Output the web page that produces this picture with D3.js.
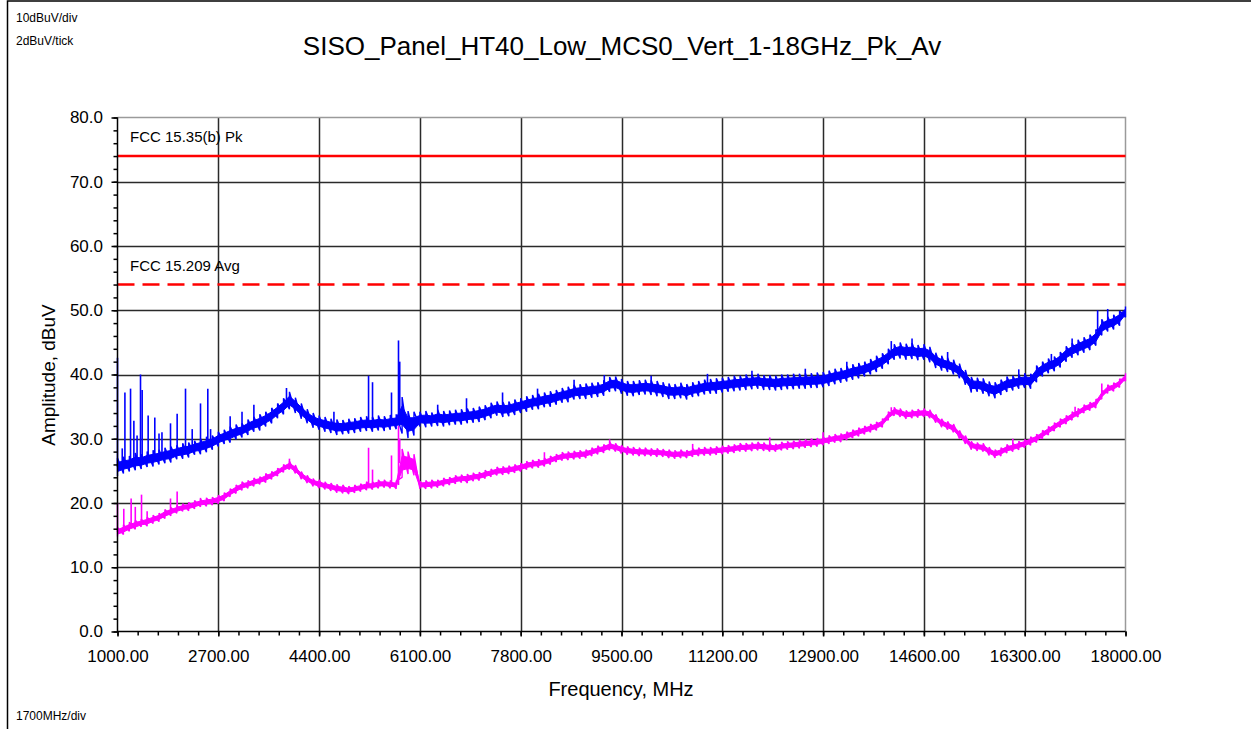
<!DOCTYPE html>
<html>
<head>
<meta charset="utf-8">
<script src="https://cdn.jsdelivr.net/npm/d3@7"></script>
<style>
body { margin: 0; background: #fff; }
text { font-family: "Liberation Sans", Arial, sans-serif; fill: #000; }
</style>
</head>
<body>
<div id="chart"></div>
<script>
var svgWidth = 1251;
var svgHeight = 729;

// plot box
var plotLeft = 117.5, plotRight = 1125.5, plotTop = 117.5, plotBottom = 631.5;

// sweep: one sample every 100 MHz, 1000 .. 18000 MHz
var freqStart = 1000;
var freqStep = 100;

// peak trace envelope (dBuV), low and high edge of the noisy band
var pkLo = [
  24.2,24.6,24.9,25.1,25.3,25.6,25.7,26.0,26.2,26.3,
  26.8,26.9,27.1,27.5,27.6,27.9,28.3,28.8,29.2,29.4,
  29.9,30.2,30.6,31.1,31.3,31.9,32.4,33.2,33.8,34.6,
  34.0,33.1,32.4,31.7,31.4,31.1,30.9,30.6,30.7,30.8,
  30.9,31.1,31.2,31.1,31.3,31.2,31.4,31.5,30.8,30.1,
  30.5,31.9,31.8,31.9,32.0,31.9,32.1,32.2,32.2,32.4,
  32.5,32.6,32.9,33.2,33.6,33.4,33.5,33.7,34.0,34.2,
  34.5,34.6,34.9,35.0,35.3,35.6,35.7,36.1,36.2,36.2,
  36.4,36.5,36.7,37.3,37.4,37.0,36.7,36.6,36.8,36.9,
  36.8,36.6,36.5,36.2,36.2,36.3,36.1,36.5,36.6,36.9,
  37.0,37.0,37.2,37.3,37.4,37.5,37.6,37.7,37.8,37.6,
  37.6,37.5,37.6,37.7,37.7,37.8,37.8,37.9,37.9,38.0,
  38.2,38.5,38.7,38.9,39.2,39.4,39.7,40.0,40.4,40.9,
  41.6,42.3,42.5,42.3,42.4,42.2,42.3,41.9,41.0,40.6,
  40.4,40.0,39.4,38.4,37.2,37.3,37.0,36.6,36.3,36.8,
  37.3,37.5,37.8,37.9,37.8,38.8,39.7,40.2,40.5,41.1,
  42.0,42.6,43.0,43.4,43.8,44.5,46.1,46.7,47.0,47.6,
  48.9
];
var pkHi = [
  27.0,27.2,27.3,27.8,27.6,28.0,28.2,28.3,28.6,28.8,
  29.0,29.3,29.4,29.7,30.0,30.3,30.5,31.1,31.4,31.9,
  32.2,32.4,33.0,33.4,33.8,34.2,34.8,35.5,36.3,37.3,
  36.4,35.5,34.6,34.0,33.6,33.4,33.1,33.0,32.9,33.1,
  33.2,33.4,33.5,33.4,33.6,33.5,33.7,33.8,36.5,34.3,
  34.2,34.2,34.3,34.1,34.5,34.3,34.4,34.5,34.6,34.7,
  34.8,35.0,35.2,35.6,35.8,35.7,35.8,36.1,36.3,36.6,
  36.8,37.0,37.2,37.4,37.6,37.9,38.1,38.4,38.5,38.6,
  38.7,38.8,39.1,39.6,39.7,39.3,39.0,39.0,39.1,39.2,
  39.1,39.0,38.8,38.6,38.5,38.7,38.5,38.8,39.0,39.2,
  39.3,39.4,39.5,39.6,39.8,39.8,40.0,40.0,40.1,39.9,
  39.9,39.8,40.0,40.0,40.1,40.1,40.2,40.2,40.3,40.4,
  40.6,40.9,41.0,41.3,41.6,41.8,42.0,42.4,42.9,43.3,
  44.0,44.7,45.0,44.8,44.9,44.6,44.7,44.3,43.4,42.9,
  42.6,42.3,41.7,40.7,39.6,39.5,39.4,38.9,38.8,39.2,
  39.7,39.8,40.0,40.2,40.1,41.4,42.0,42.5,42.8,43.5,
  44.4,44.9,45.4,45.8,46.2,47.0,48.6,49.0,49.3,49.9,
  50.6
];

// average trace envelope (dBuV)
var avLo = [
  14.8,15.1,15.6,15.9,16.3,16.4,16.8,17.1,17.6,18.0,
  18.4,18.7,18.8,19.1,19.4,19.5,19.7,19.9,20.3,21.0,
  21.5,22.0,22.3,22.6,22.9,23.2,23.7,24.2,24.8,25.2,
  24.6,23.7,23.1,22.6,22.3,22.1,21.9,21.6,21.5,21.4,
  21.6,21.8,22.0,22.1,22.3,22.4,22.3,22.2,24.0,24.5,
  24.3,22.2,22.2,22.3,22.4,22.6,22.8,23.0,23.2,23.1,
  23.4,23.5,23.8,24.1,24.3,24.4,24.5,24.7,24.9,25.2,
  25.4,25.5,25.7,26.0,26.4,26.6,26.7,26.8,26.9,27.0,
  27.3,27.6,27.8,28.2,28.0,27.7,27.5,27.4,27.3,27.3,
  27.3,27.2,27.2,27.0,26.9,27.0,27.0,27.2,27.3,27.4,
  27.4,27.5,27.6,27.7,27.8,28.0,28.0,28.1,28.2,28.1,
  28.0,28.0,28.2,28.3,28.4,28.5,28.6,28.7,28.8,29.0,
  29.2,29.4,29.5,29.8,30.1,30.4,30.7,31.0,31.3,31.8,
  32.9,33.6,33.4,33.1,33.2,33.3,33.4,33.2,32.5,31.8,
  31.4,31.0,30.0,29.2,28.3,28.1,28.0,27.4,27.0,27.3,
  27.8,28.0,28.3,28.6,29.0,29.4,30.0,30.6,31.2,31.8,
  32.3,32.9,33.4,34.0,34.4,34.8,36.2,37.1,37.4,38.0,
  39.0
];
var avHi = [
  16.2,16.6,17.0,17.3,17.5,17.8,18.1,18.4,19.0,19.3,
  19.6,19.9,20.1,20.4,20.6,20.8,20.9,21.2,21.6,22.2,
  22.8,23.3,23.5,23.9,24.1,24.6,24.9,25.4,26.0,26.5,
  25.9,24.9,24.3,23.8,23.6,23.3,23.1,22.9,22.8,22.6,
  22.8,23.0,23.3,23.3,23.6,23.6,23.5,23.4,28.4,28.0,
  27.6,23.4,23.5,23.6,23.6,23.9,24.0,24.3,24.4,24.5,
  24.7,24.8,25.1,25.3,25.6,25.7,25.8,26.0,26.2,26.5,
  26.7,26.8,27.0,27.3,27.6,27.9,28.0,28.1,28.2,28.3,
  28.6,28.9,29.1,29.5,29.3,29.0,28.8,28.7,28.6,28.6,
  28.5,28.5,28.4,28.3,28.2,28.3,28.2,28.5,28.6,28.7,
  28.7,28.8,28.9,29.0,29.1,29.3,29.3,29.4,29.5,29.4,
  29.3,29.2,29.5,29.6,29.7,29.8,29.9,30.0,30.1,30.3,
  30.5,30.7,30.8,31.1,31.4,31.7,32.0,32.3,32.6,33.1,
  34.2,34.9,34.7,34.4,34.5,34.6,34.7,34.5,33.8,33.1,
  32.7,32.3,31.3,30.5,29.6,29.4,29.3,28.7,28.3,28.6,
  29.1,29.3,29.6,29.9,30.3,30.7,31.3,31.9,32.5,33.1,
  33.6,34.2,34.7,35.3,35.7,36.1,37.5,38.4,38.7,39.3,
  40.2
];

// narrow emissions sticking out of the band
var pkSpikeFreq = [1000,1080,1125,1220,1276,1330,1388,1416,1517,1629,1700,1750,1894,2006,2147,2260,2400,2523,2570,2900,3100,3300,3850,4650,5234,5301,5621,5739,5760,6400,6886,7494,8084,8700,9210,10000,10950,11700,12600,13300,14050,14400,15000,16200,16750,17100,17530,17700];
var pkSpikeTop  = [42.6,28.5,37.2,37.8,32.8,30.5,40.0,37.6,33.6,33.3,30.8,31.0,32.4,33.9,37.8,31.5,35.5,37.8,31.5,33.5,34.2,35.3,37.9,34.2,39.8,38.8,37.2,45.3,42.0,35.3,36.3,37.2,37.8,39.2,39.9,39.8,40.1,40.6,40.9,42.0,45.2,45.6,43.5,40.8,43.2,45.6,50.0,50.2];
var avSpikeFreq = [1000,1106,1230,1300,1405,1500,1894,2006,2400,3900,5234,5301,5621,5739,5760,8200,9300,10700,12000,12900,14050,16100,17150,17600];
var avSpikeTop  = [20.0,19.1,20.7,19.4,21.3,18.7,20.7,21.8,20.8,26.9,28.6,25.2,27.4,32.0,30.0,27.9,29.9,29.2,30.2,31.0,34.9,30.0,35.0,38.6];

// limits
var limitPk = 74;
var limitAv = 54;
var limitPkLabel = "FCC 15.35(b) Pk";
var limitAvLabel = "FCC 15.209 Avg";

// axes
var xTicks = [1000,2700,4400,6100,7800,9500,11200,12900,14600,16300,18000];
var yTicks = [0,10,20,30,40,50,60,70,80];

var svg = d3
.select("#chart")
.append("svg")
.attr("width", svgWidth)
.attr("height", svgHeight);

// outer frame (left and top edges visible)
svg.append("rect")
.attr("x", 7.5)
.attr("y", 1)
.attr("width", 1300)
.attr("height", 800)
.attr("fill", "none")
.attr("stroke", "#000")
.attr("stroke-width", 1.5);

var xScale = d3.scaleLinear().domain([1000, 18000]).range([plotLeft, plotRight]);
var yScale = d3.scaleLinear().domain([0, 80]).range([plotBottom, plotTop]);

var freqs = pkLo.map(function(d, i) { return freqStart + i * freqStep; });

// grid
svg.append("g")
.selectAll("line")
.data(xTicks.slice(1, -1))
.enter()
.append("line")
.attr("x1", function(d) { return Math.round(xScale(d)) + 0.5; })
.attr("x2", function(d) { return Math.round(xScale(d)) + 0.5; })
.attr("y1", plotTop)
.attr("y2", plotBottom)
.attr("stroke", "#2a2a2a")
.attr("stroke-width", 1.5);

svg.append("g")
.selectAll("line")
.data(yTicks.slice(1, -1))
.enter()
.append("line")
.attr("x1", plotLeft)
.attr("x2", plotRight)
.attr("y1", function(d) { return Math.round(yScale(d)) + 0.5; })
.attr("y2", function(d) { return Math.round(yScale(d)) + 0.5; })
.attr("stroke", "#2a2a2a")
.attr("stroke-width", 1.5);

// top / right border of the plot
svg.append("path")
.attr("d", "M" + plotLeft + "," + plotTop + "H" + plotRight + "V" + plotBottom)
.attr("fill", "none")
.attr("stroke", "#9a9a9a")
.attr("stroke-width", 1.5);

// limit lines
svg.append("line")
.attr("x1", plotLeft).attr("x2", plotRight)
.attr("y1", yScale(limitPk)).attr("y2", yScale(limitPk))
.attr("stroke", "#ff0000")
.attr("stroke-width", 2.5);

svg.append("line")
.attr("x1", plotLeft).attr("x2", plotRight)
.attr("y1", yScale(limitAv)).attr("y2", yScale(limitAv))
.attr("stroke", "#ff0000")
.attr("stroke-width", 2.5)
.attr("stroke-dasharray", "17,8");

svg.append("text")
.attr("x", 130)
.attr("y", yScale(limitPk) - 14)
.attr("font-size", 15)
.text(limitPkLabel);

svg.append("text")
.attr("x", 130)
.attr("y", yScale(limitAv) - 14)
.attr("font-size", 15)
.text(limitAvLabel);

// traces: solid core of the band plus a saw line running between its edges
function drawTrace(lo, hi, spikeF, spikeTop, color) {
    var core = d3.area()
    .x(function(d, i) { return xScale(freqs[i]); })
    .y0(function(d, i) { return yScale(lo[i] + (hi[i] - lo[i]) * 0.25); })
    .y1(function(d, i) { return yScale(hi[i] - (hi[i] - lo[i]) * 0.25); });

    svg.append("path")
    .datum(lo)
    .attr("d", core)
    .attr("fill", color)
    .attr("stroke", color)
    .attr("stroke-width", 1);

    var saw = [];
    freqs.forEach(function(f, i) {
        saw.push([xScale(f), yScale(lo[i])]);
        saw.push([xScale(f), yScale(hi[i])]);
    });

    svg.append("path")
    .attr("d", d3.line()(saw))
    .attr("fill", "none")
    .attr("stroke", color)
    .attr("stroke-width", 1.4)
    .attr("stroke-linejoin", "bevel");

    svg.append("g")
    .selectAll("line")
    .data(spikeF)
    .enter()
    .append("line")
    .attr("x1", function(d) { return xScale(d); })
    .attr("x2", function(d) { return xScale(d); })
    .attr("y1", function(d, i) { return yScale(spikeTop[i]); })
    .attr("y2", function(d) {
        var k = Math.round((d - freqStart) / freqStep);
        return yScale((lo[k] + hi[k]) / 2);
    })
    .attr("stroke", color)
    .attr("stroke-width", 1.6);
}

drawTrace(pkLo, pkHi, pkSpikeFreq, pkSpikeTop, "#0000ff");
drawTrace(avLo, avHi, avSpikeFreq, avSpikeTop, "#ff00ff");

// axes
var yAxis = d3.axisLeft(yScale)
.tickValues(yTicks)
.tickFormat(d3.format(".1f"))
.tickSize(6)
.tickPadding(8.5);

var yMinor = d3.axisLeft(yScale)
.tickValues(d3.range(0, 81, 2))
.tickFormat("")
.tickSize(4);

var xAxis = d3.axisBottom(xScale)
.tickValues(xTicks)
.tickFormat(d3.format(".2f"))
.tickSize(5)
.tickPadding(13);

var xMinor = d3.axisBottom(xScale)
.tickValues(d3.range(1000, 18001, 340))
.tickFormat("")
.tickSize(4);

function styleAxis(g) {
    g.select(".domain").remove();
    g.selectAll("line").attr("stroke", "#000").attr("stroke-width", 1.5);
    g.selectAll("text")
    .attr("font-size", 17)
    .attr("fill", "#000")
    .style("font-family", "'Liberation Sans', Arial, sans-serif");
}

svg.append("g").attr("transform", "translate(" + plotLeft + ",0)").call(yMinor).call(styleAxis);
svg.append("g").attr("transform", "translate(" + plotLeft + ",0)").call(yAxis).call(styleAxis);
svg.append("g").attr("transform", "translate(0," + plotBottom + ")").call(xMinor).call(styleAxis);
svg.append("g").attr("transform", "translate(0," + plotBottom + ")").call(xAxis).call(styleAxis);

// axis lines
svg.append("path")
.attr("d", "M" + plotLeft + "," + plotTop + "V" + plotBottom + "H" + plotRight)
.attr("fill", "none")
.attr("stroke", "#000")
.attr("stroke-width", 1.5);

// titles
svg.append("text")
.attr("x", 622)
.attr("y", 55)
.attr("text-anchor", "middle")
.attr("font-size", 26)
.text("SISO_Panel_HT40_Low_MCS0_Vert_1-18GHz_Pk_Av");

svg.append("text")
.attr("x", 621)
.attr("y", 696)
.attr("text-anchor", "middle")
.attr("font-size", 20)
.text("Frequency, MHz");

svg.append("text")
.attr("transform", "translate(55,375)rotate(-90)")
.attr("text-anchor", "middle")
.attr("font-size", 19)
.text("Amplitude, dBuV");

// scale notes
svg.append("text").attr("x", 16).attr("y", 22).attr("font-size", 12).text("10dBuV/div");
svg.append("text").attr("x", 16).attr("y", 45).attr("font-size", 12).text("2dBuV/tick");
svg.append("text").attr("x", 16).attr("y", 720).attr("font-size", 12).text("1700MHz/div");
</script>
</body>
</html>
